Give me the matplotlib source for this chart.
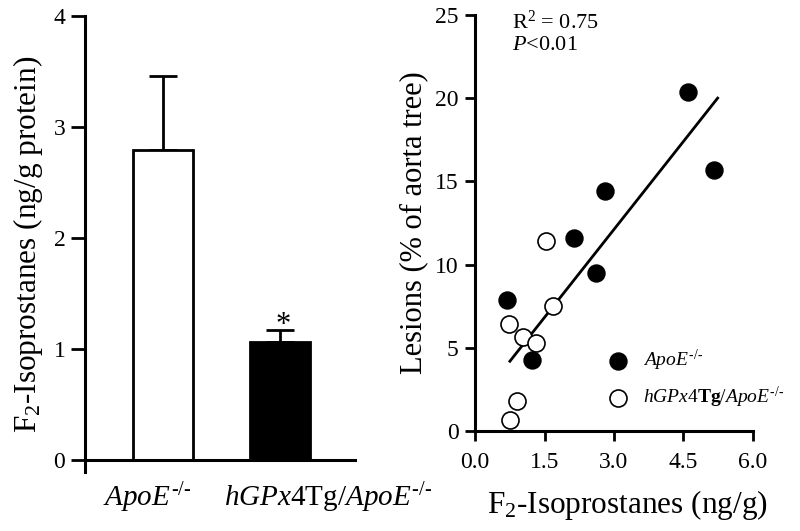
import matplotlib
matplotlib.use("Agg")
import matplotlib.pyplot as plt
import numpy as np

plt.rcParams["font.family"] = ["Liberation Serif", "DejaVu Serif"]
plt.rcParams["mathtext.fontset"] = "custom"
plt.rcParams["mathtext.rm"] = "Liberation Serif"
plt.rcParams["mathtext.it"] = "Liberation Serif:italic"
plt.rcParams["mathtext.bf"] = "Liberation Serif:bold"

KO = "^{\u2010/\u2010}"

# left panel: bar chart
groups = [r"$\mathit{ApoE}" + KO + "$", r"$\mathit{hGPx4}\mathrm{Tg}/\mathit{ApoE}" + KO + "$"]
iso_mean = [2.79, 1.06]
iso_err = [0.67, 0.11]
bar_colors = ["white", "black"]

# right panel: scatter
apoe_x = [0.68, 1.22, 2.13, 2.61, 2.80, 4.60, 5.16]
apoe_y = [7.9, 4.3, 11.6, 9.5, 14.4, 20.35, 15.7]
tg_x = [0.72, 1.04, 1.31, 1.54, 1.69, 0.90, 0.75]
tg_y = [6.45, 5.65, 5.3, 11.4, 7.5, 1.8, 0.7]
fit_x = [0.75, 5.24]
fit_y = [4.2, 20.0]

fig = plt.figure(figsize=(8, 5.31), dpi=100)

# ---- left
ax1 = fig.add_axes([0.106, 0.111, 0.338, 0.859])
pos = np.arange(len(iso_mean))
ax1.bar(pos, iso_mean, width=0.515, color=bar_colors, edgecolor="black", linewidth=2, zorder=2)
ax1.errorbar(pos, iso_mean, yerr=[[0, 0], iso_err], fmt="none", ecolor="black",
             elinewidth=2, capsize=10, capthick=2, zorder=1)
ax1.text(pos[1] + 0.03, iso_mean[1] + iso_err[1] - 0.09, "*", ha="center", va="bottom", fontsize=22)
ax1.set_xlim(-0.674, 1.644)
ax1.set_ylim(-0.11, 4)
ax1.set_yticks([0, 1, 2, 3, 4])
ax1.set_xticks([])
ax1.spines["top"].set_visible(False)
ax1.spines["right"].set_visible(False)
ax1.spines["bottom"].set_position(("data", 0))
for s in ("left", "bottom"):
    ax1.spines[s].set_linewidth(2.2)
ax1.tick_params(axis="y", direction="out", length=10, width=2, labelsize=17, pad=4)
ax1.set_ylabel("F$_2$-Isoprostanes (ng/g protein)", fontsize=22.5, labelpad=6)
label_x = [-0.14, 1.41]
for lx, lab in zip(label_x, groups):
    ax1.text(lx, -0.34, lab, ha="center", va="center", fontsize=21, clip_on=False)

# ---- right
ax2 = fig.add_axes([0.594, 0.188, 0.347, 0.784])
ax2.plot(fit_x, fit_y, color="black", linewidth=2, zorder=1)
ax2.scatter(apoe_x, apoe_y, s=150, color="black", edgecolor="black", zorder=3,
            label=r"$\mathit{ApoE}" + KO + "$")
ax2.scatter(tg_x, tg_y, s=150, facecolor="white", edgecolor="black", linewidth=1.2, zorder=3,
            label=r"$\mathit{hGPx4}\mathbf{Tg}/\mathit{ApoE}" + KO + "$")
ax2.set_xlim(0, 6)
ax2.set_ylim(0, 25)
ax2.set_xticks([0, 1.5, 3.0, 4.5, 6.0])
ax2.set_xticklabels(["0.0", "1.5", "3.0", "4.5", "6.0"])
ax2.set_yticks([0, 5, 10, 15, 20, 25])
ax2.spines["top"].set_visible(False)
ax2.spines["right"].set_visible(False)
for s in ("left", "bottom"):
    ax2.spines[s].set_linewidth(2.2)
ax2.tick_params(direction="out", length=7, width=2, labelsize=17, pad=5)
ax2.tick_params(axis="x", pad=8)
ax2.set_xlabel("F$_2$-Isoprostanes (ng/g)", fontsize=22.5)
ax2.xaxis.set_label_coords(0.547, -0.137)
ax2.set_ylabel("Lesions (% of aorta tree)", fontsize=22, labelpad=5)
ax2.text(0.133, 1.01, r"R$^2$ = 0.75", transform=ax2.transAxes, ha="left", va="top", fontsize=16)
ax2.text(0.133, 0.95, r"$\mathit{P}$<0.01", transform=ax2.transAxes, ha="left", va="top", fontsize=16)
ax2.legend(loc="center left", bbox_to_anchor=(0.415, 0.125), frameon=False, fontsize=14,
           handletextpad=0.3, labelspacing=0.6, borderaxespad=0)

fig.savefig("out.png", dpi=100)
